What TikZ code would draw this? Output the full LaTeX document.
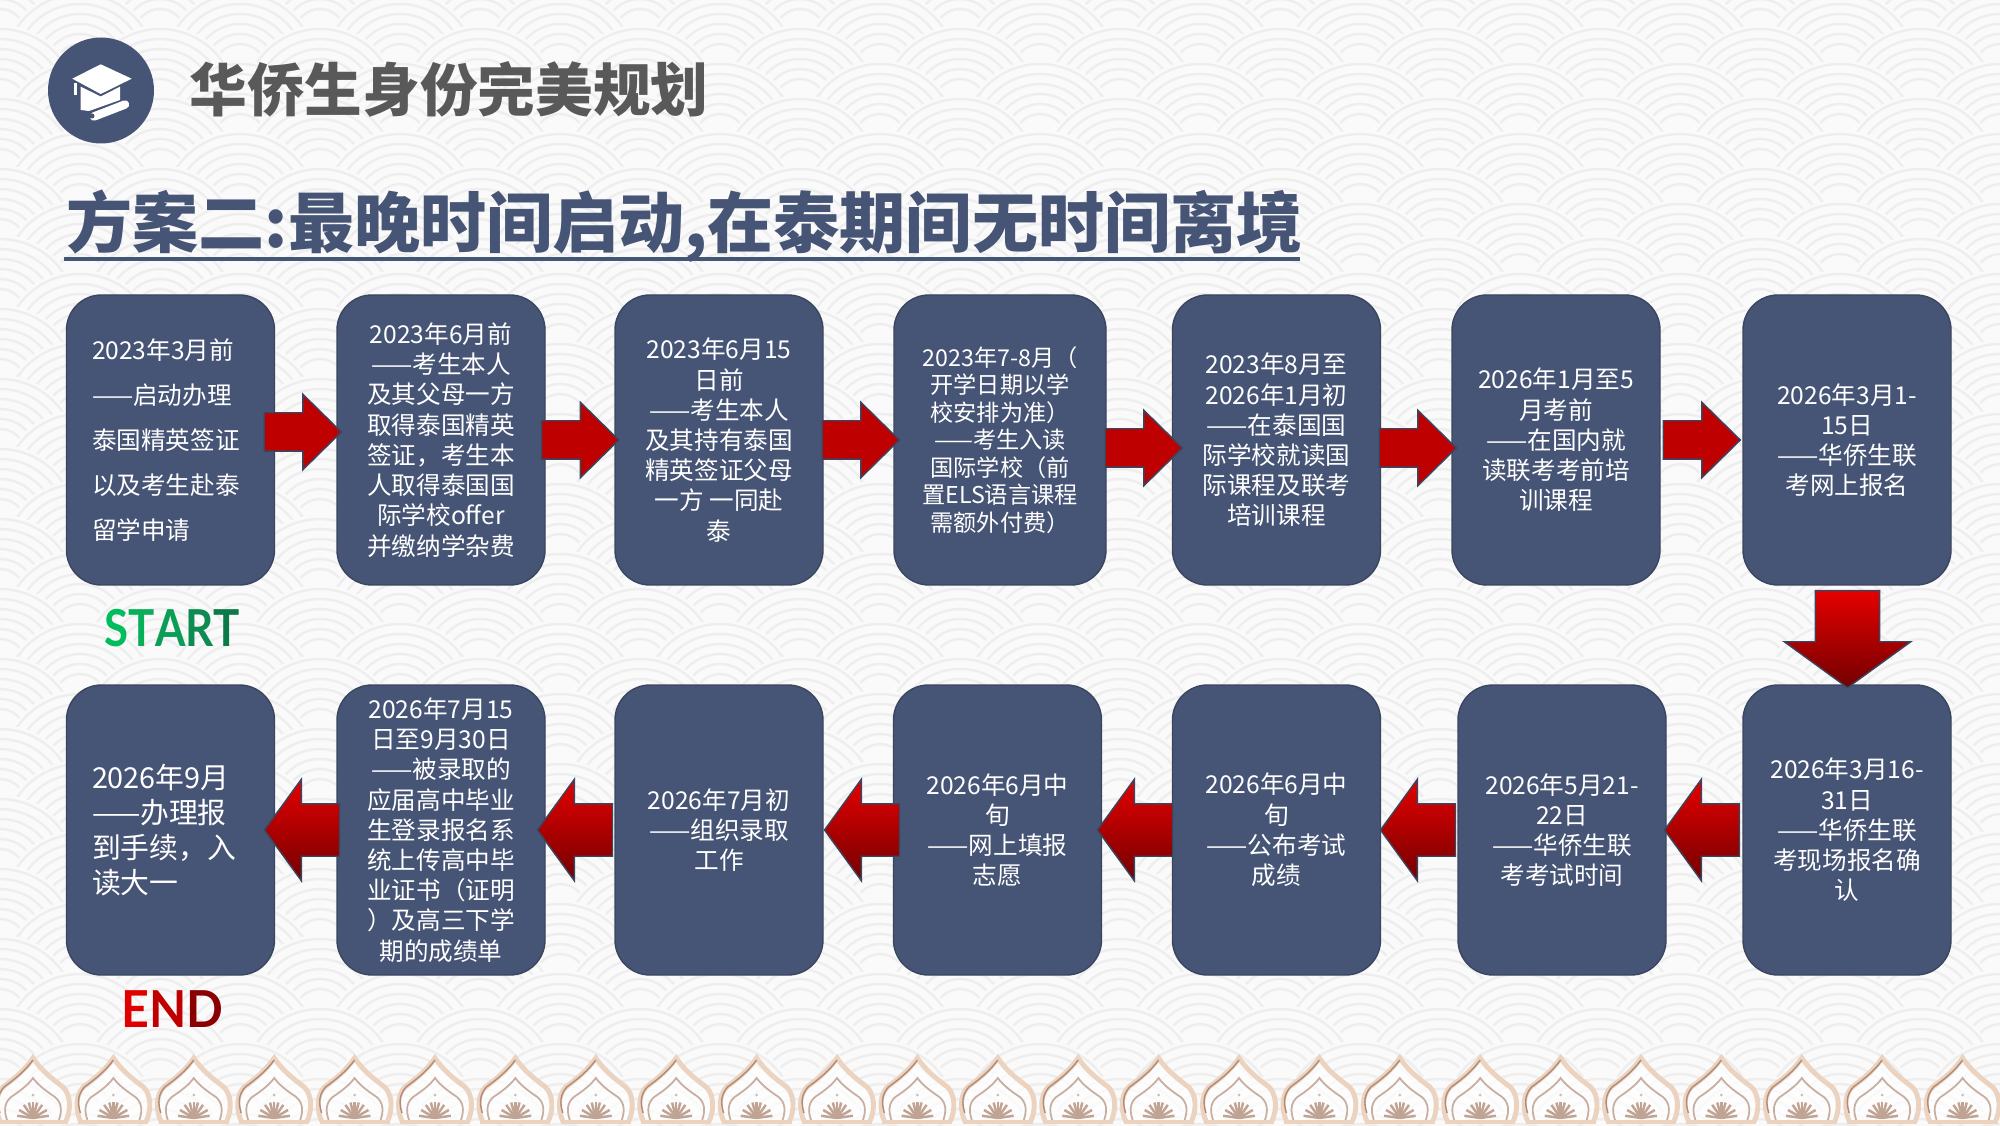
\documentclass[tikz,border=0pt]{standalone}
\usepackage{fontspec}
\setmainfont{Noto Sans CJK SC}
\newfontfamily\latinsans{Lato}
\usetikzlibrary{shapes.arrows}
\definecolor{boxblue}{HTML}{465475}
\definecolor{boxedge}{HTML}{3A4560}
\definecolor{scaleline}{HTML}{EEEEEE}
\definecolor{scalefill}{HTML}{FAFAFA}
\definecolor{domeline}{HTML}{EBD3C0}
\definecolor{domedark}{HTML}{B08C78}
\tikzset{
  flowbox/.style={draw=boxedge, fill=boxblue, rounded corners=0.35cm, minimum height=2.9cm,
    inner sep=0pt, text=white, align=center, font=\fontsize{7}{8.6}\selectfont},
  widebox/.style={flowbox, minimum width=2.08cm},
  leftbox/.style={widebox, text width=1.57cm, align=left},
  rightarrow/.style={single arrow, draw=boxedge, line width=0.4pt, fill=red!75!black, inner sep=0pt,
    text height=0.37cm, text depth=0pt, minimum height=0.77cm, minimum width=0.74cm, single arrow head extend=0.185cm,
    single arrow tip angle=89, single arrow head indent=0pt},
  leftarrow/.style={single arrow, draw=boxedge, line width=0.4pt, top color=red!90!black, bottom color=red!45!black,
    text height=0.51cm, text depth=0pt, inner sep=0pt, minimum height=0.75cm, minimum width=1.0cm, single arrow head extend=0.245cm,
    single arrow tip angle=108, single arrow head indent=0pt, shape border rotate=180},
  downarrow/.style={leftarrow, text height=0pt, text width=0.63cm, minimum height=0.97cm, minimum width=1.25cm,
    single arrow head extend=0.31cm, shape border rotate=270},
}
\begin{document}
\begin{tikzpicture}
 \useasboundingbox (0,0) rectangle (20,11.25);
 \fill [scalefill] (0,0) rectangle (20,11.25);
 % background scales
 \begin{scope}
 \clip (0,0) rectangle (20,11.25);
 \foreach \row in {0,...,36} {
  \foreach \col in {0,...,13} {
   \pgfmathsetmacro{\cx}{1.6*\col-0.8*mod(\row,2)}
   \pgfmathsetmacro{\cy}{11.6-0.35*\row}
   \fill [scalefill] (\cx,\cy) circle (0.8);
   \foreach \rad in {0.76,0.66,0.56,0.46,0.36,0.26}
    \draw [scaleline, line width=0.7pt] (\cx,\cy) ++(20:\rad) arc (20:160:\rad);
  }
 }
 \end{scope}
 % domes along the bottom
 \foreach \col in {0,...,24} {
  \pgfmathsetmacro{\dx}{0.33+0.804*\col}
  \begin{scope}[xshift=\dx cm]
  \fill [white, opacity=0.7] (-0.33,0.04) .. controls (-0.38,0.15) and (-0.38,0.3) .. (-0.3,0.38)
    .. controls (-0.18,0.47) and (-0.08,0.55) .. (0,0.67)
    .. controls (0.08,0.55) and (0.18,0.47) .. (0.3,0.38)
    .. controls (0.38,0.3) and (0.38,0.15) .. (0.33,0.04) -- cycle;
  \draw [domeline, line width=1.4pt] (-0.33,0.04) .. controls (-0.38,0.15) and (-0.38,0.3) .. (-0.3,0.38)
    .. controls (-0.18,0.47) and (-0.08,0.55) .. (0,0.67)
    .. controls (0.08,0.55) and (0.18,0.47) .. (0.3,0.38)
    .. controls (0.38,0.3) and (0.38,0.15) .. (0.33,0.04);
  \draw [domedark, line width=0.4pt] (-0.33,0.12) .. controls (-0.36,0.22) and (-0.36,0.3) .. (-0.29,0.38)
    .. controls (-0.18,0.46) and (-0.08,0.54) .. (0,0.65);
  \draw [domedark!70, line width=0.5pt] (-0.26,0.05) .. controls (-0.29,0.14) and (-0.29,0.22) .. (-0.22,0.28)
    .. controls (-0.13,0.34) and (-0.05,0.4) .. (0,0.47)
    .. controls (0.05,0.4) and (0.13,0.34) .. (0.22,0.28)
    .. controls (0.29,0.22) and (0.29,0.14) .. (0.26,0.05);
  \foreach \ang in {8,30,55,75,90,105,125,150,172}
   \draw [domedark!80, line width=0.7pt] (0,0.07) -- ++(\ang:0.16);
  \fill [domedark!60] (0,0.3) circle (0.015);
  \draw [domeline, line width=1pt] (-0.35,0.03) -- (0.35,0.03);
  \end{scope}
 }
 % heading
 \node [circle, fill=boxblue, minimum size=1.06cm, inner sep=0pt] (badge) at (1.01,10.345) {};
 \fill [white] (1.007,10.607) -- (1.317,10.463) -- (1.007,10.31) -- (0.723,10.463) -- cycle;
 \fill [white] (0.735,10.42) rectangle (0.77,10.30);
 \fill [white] (0.807,10.383) -- (1.007,10.285) -- (1.20,10.383) -- (1.20,10.25) -- (0.89,10.14) -- (0.807,10.15) -- cycle;
 \draw [white, line width=2.4pt, line cap=round] (0.94,10.085) -- (1.25,10.205);
 \fill [boxblue] (0.92,10.09) circle (0.025);
 \node [text=black!65, font=\fontsize{16.4}{18}\selectfont\bfseries, inner sep=0pt] (heading) at (4.49,10.36) {华侨生身份完美规划};
 \node [text=boxblue, font=\fontsize{18.8}{20}\selectfont\bfseries, inner sep=0pt, anchor=west] (plan) at (0.66,8.99) {方案二:最晚时间启动,在泰期间无时间离境};
 \draw [boxblue, line width=1.4pt] (0.64,8.66) -- (13.0,8.66);
 % first row
 \node [leftbox, font=\fontsize{7}{12.8}\selectfont] (boxA) at (1.705,6.85) {2023年3月前\\——启动办理\\泰国精英签证\\以及考生赴泰\\留学申请};
 \node [widebox] (boxB) at (4.41,6.85) {2023年6月前\\——考生本人\\及其父母一方\\取得泰国精英\\签证，考生本\\人取得泰国国\\际学校offer\\并缴纳学杂费};
 \node [widebox] (boxC) at (7.19,6.85) {2023年6月15\\日前\\——考生本人\\及其持有泰国\\精英签证父母\\一方 一同赴\\泰};
 \node [flowbox, minimum width=2.12cm, font=\fontsize{6.6}{7.8}\selectfont] (boxD) at (10.0,6.85) {2023年7-8月（\\开学日期以学\\校安排为准）\\——考生入读\\国际学校（前\\置ELS语言课程\\需额外付费）};
 \node [widebox] (boxE) at (12.765,6.85) {2023年8月至\\2026年1月初\\——在泰国国\\际学校就读国\\际课程及联考\\培训课程};
 \node [widebox] (boxF) at (15.56,6.85) {2026年1月至5\\月考前\\——在国内就\\读联考考前培\\训课程};
 \node [widebox] (boxG) at (18.47,6.85) {2026年3月1-\\15日\\——华侨生联\\考网上报名};
 % second row
 \node [widebox] (boxH) at (18.47,2.95) {2026年3月16-\\31日\\——华侨生联\\考现场报名确\\认};
 \node [widebox] (boxI) at (15.62,2.95) {2026年5月21-\\22日\\——华侨生联\\考考试时间};
 \node [widebox] (boxJ) at (12.765,2.95) {2026年6月中\\旬\\——公布考试\\成绩};
 \node [widebox] (boxK) at (9.975,2.95) {2026年6月中\\旬\\——网上填报\\志愿};
 \node [widebox] (boxL) at (7.19,2.95) {2026年7月初\\——组织录取\\工作};
 \node [widebox] (boxM) at (4.41,2.95) {2026年7月15\\日至9月30日\\——被录取的\\应届高中毕业\\生登录报名系\\统上传高中毕\\业证书（证明\\）及高三下学\\期的成绩单};
 \node [leftbox, font=\fontsize{8.2}{10}\selectfont] (boxN) at (1.705,2.95) {2026年9月\\——办理报\\到手续，入\\读大一};
 % arrows
 \node [rightarrow] (arrA) at (2.93,6.93) {};
 \node [rightarrow] (arrB) at (5.705,6.85) {};
 \node [rightarrow] (arrC) at (8.51,6.85) {};
 \node [rightarrow] (arrD) at (11.34,6.77) {};
 \node [rightarrow] (arrE) at (14.08,6.77) {};
 \node [rightarrow] (arrF) at (16.92,6.85) {};
 \node [downarrow] (arrG) at (18.475,4.975) {};
 \node [leftarrow] (arrH) at (17.115,2.95) {};
 \node [leftarrow] (arrI) at (14.275,2.95) {};
 \node [leftarrow] (arrJ) at (11.445,2.95) {};
 \node [leftarrow] (arrK) at (8.715,2.95) {};
 \node [leftarrow] (arrL) at (5.845,2.95) {};
 \node [leftarrow] (arrM) at (3.115,2.95) {};
 % labels
 \node [font=\fontsize{14.5}{16}\selectfont\latinsans\bfseries, inner sep=0pt, xscale=0.86] (start) at (1.725,4.97)
  {\textcolor[HTML]{00BC5C}{S}\textcolor[HTML]{08AE5A}{T}\textcolor[HTML]{0C9E56}{A}\textcolor[HTML]{0C8C50}{R}\textcolor[HTML]{0A7A48}{T}};
 \node [font=\fontsize{14.5}{16}\selectfont\latinsans\bfseries, inner sep=0pt, xscale=0.95] (finish) at (1.725,1.16)
  {\textcolor[HTML]{E00000}{E}\textcolor[HTML]{C00000}{N}\textcolor[HTML]{8A0000}{D}};
\end{tikzpicture}
\end{document}
